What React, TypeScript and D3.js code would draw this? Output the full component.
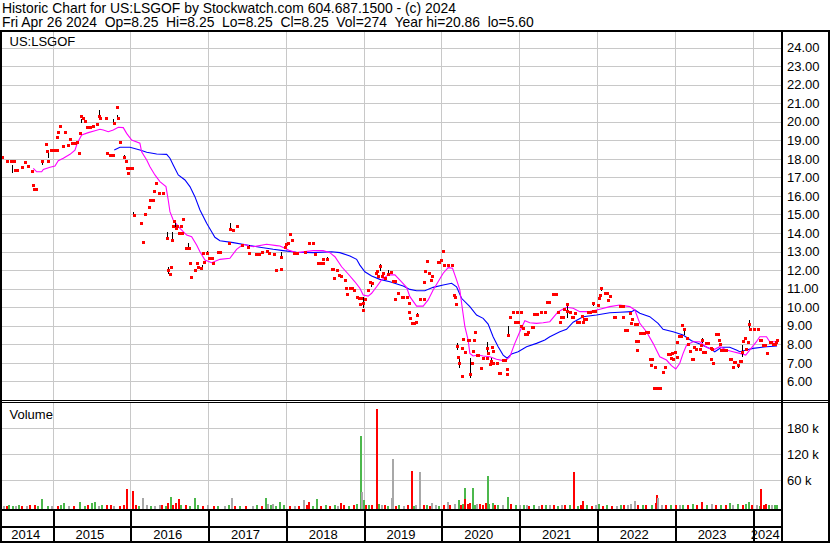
import React from 'react';
import * as d3 from 'd3';

const W = 830;
const H = 543;

const title1 = 'Historic Chart for US:LSGOF by Stockwatch.com 604.687.1500 - (c) 2024';
const title2 = 'Fri Apr 26 2024  Op=8.25  Hi=8.25  Lo=8.25  Cl=8.25  Vol=274  Year hi=20.86  lo=5.60';
const symbol = 'US:LSGOF';
const volumeLabel = 'Volume';

const yearLabels = [2014, 2015, 2016, 2017, 2018, 2019, 2020, 2021, 2022, 2023, 2024];
const yearLines = [2015, 2016, 2017, 2018, 2019, 2020, 2021, 2022, 2023, 2024];
const priceTicks = [24, 23, 22, 21, 20, 19, 18, 17, 16, 15, 14, 13, 12, 11, 10, 9, 8, 7, 6];
const volTicks = [60, 120, 180];

// daily closes: [decimal year, close]
const closes: [number, number][] = [
  [2014.347, 18.11], [2014.415, 17.9], [2014.466, 17.9], [2014.505, 17.9], [2014.518, 17.4], [2014.544, 17.4],
  [2014.608, 17.55], [2014.646, 17.85], [2014.685, 17.6], [2014.732, 17.36], [2014.745, 16.6], [2014.768, 16.35],
  [2014.788, 16.35], [2014.871, 17.9], [2014.916, 18.8], [2014.925, 18.44], [2014.946, 17.9], [2014.977, 18.47],
  [2015.015, 18.47], [2015.054, 18.47], [2015.064, 19.19], [2015.074, 19.46], [2015.096, 19.78], [2015.139, 18.69],
  [2015.164, 19.46], [2015.203, 18.74], [2015.225, 19.05], [2015.25, 18.85], [2015.289, 18.85], [2015.311, 18.92],
  [2015.34, 18.3], [2015.353, 19.4], [2015.366, 20.3], [2015.396, 20.18], [2015.418, 20.04], [2015.443, 19.73],
  [2015.482, 19.73], [2015.524, 19.78], [2015.568, 19.87], [2015.604, 20.3], [2015.61, 20.2], [2015.687, 20.2],
  [2015.7, 18.3], [2015.739, 18.22], [2015.774, 18.22], [2015.794, 19.91], [2015.825, 20.81], [2015.846, 20.2],
  [2015.867, 18.92], [2015.925, 18.1], [2015.941, 17.9], [2015.957, 17.52], [2015.966, 17.25], [2015.987, 17.52],
  [2016.018, 17.52], [2016.047, 14.97], [2016.137, 14.56], [2016.159, 13.52], [2016.189, 15.02], [2016.24, 15.42],
  [2016.253, 15.78], [2016.288, 15.78], [2016.308, 16.28], [2016.33, 16.71], [2016.373, 16.17], [2016.424, 16.17],
  [2016.475, 13.75], [2016.484, 12.0], [2016.506, 11.77], [2016.519, 12.18], [2016.532, 13.6], [2016.553, 14.4],
  [2016.565, 14.66], [2016.583, 14.25], [2016.596, 14.38], [2016.626, 13.98], [2016.651, 14.38], [2016.66, 13.98],
  [2016.673, 14.77], [2016.716, 13.2], [2016.758, 13.18], [2016.767, 12.37], [2016.776, 11.64], [2016.831, 12.0],
  [2016.853, 12.37], [2016.874, 12.18], [2016.908, 12.1], [2016.938, 12.9], [2016.947, 12.45], [2016.982, 12.94],
  [2017.015, 12.67], [2017.046, 12.67], [2017.059, 12.37], [2017.127, 12.97], [2017.153, 12.97], [2017.268, 13.48],
  [2017.288, 14.2], [2017.324, 14.16], [2017.367, 14.38], [2017.439, 13.35], [2017.516, 13.26], [2017.529, 12.9],
  [2017.615, 12.87], [2017.654, 12.87], [2017.689, 12.99], [2017.753, 13.03], [2017.779, 12.9], [2017.847, 12.87],
  [2017.872, 12.0], [2017.933, 12.04], [2017.937, 12.7], [2017.988, 13.26], [2018.001, 13.39], [2018.031, 13.44],
  [2018.052, 13.95], [2018.074, 13.62], [2018.108, 12.9], [2018.138, 12.94], [2018.245, 12.99], [2018.3, 13.48],
  [2018.352, 13.48], [2018.374, 12.85], [2018.408, 12.4], [2018.444, 12.4], [2018.473, 12.6], [2018.481, 12.4],
  [2018.524, 12.58], [2018.588, 12.07], [2018.609, 12.07], [2018.622, 11.59], [2018.653, 12.0], [2018.686, 11.74],
  [2018.714, 11.7], [2018.759, 11.47], [2018.772, 11.02], [2018.789, 10.71], [2018.824, 11.02], [2018.846, 11.02],
  [2018.879, 10.93], [2018.917, 10.57], [2018.943, 10.47], [2018.952, 10.17], [2018.961, 10.47], [2018.99, 10.2],
  [2018.995, 9.85], [2019.016, 10.46], [2019.051, 10.93], [2019.081, 11.37], [2019.103, 11.29], [2019.158, 11.86],
  [2019.174, 11.95], [2019.187, 11.68], [2019.209, 12.2], [2019.231, 11.68], [2019.252, 11.83], [2019.273, 11.6],
  [2019.308, 11.8], [2019.347, 11.9], [2019.372, 11.41], [2019.402, 11.41], [2019.408, 10.42], [2019.437, 10.78],
  [2019.488, 10.53], [2019.509, 10.53], [2019.552, 10.53], [2019.578, 10.21], [2019.582, 9.76], [2019.601, 9.42],
  [2019.624, 9.15], [2019.646, 9.15], [2019.668, 9.22], [2019.681, 9.58], [2019.723, 10.44], [2019.775, 10.44],
  [2019.779, 11.37], [2019.787, 11.97], [2019.817, 12.49], [2019.843, 11.86], [2019.861, 11.47], [2019.878, 11.7],
  [2019.951, 12.44], [2019.971, 12.44], [2019.989, 12.54], [2020.023, 13.05], [2020.036, 12.27], [2020.083, 12.27],
  [2020.131, 12.27], [2020.164, 10.66], [2020.173, 10.57], [2020.186, 10.17], [2020.203, 7.9], [2020.216, 7.33],
  [2020.228, 7.0], [2020.259, 6.29], [2020.267, 7.8], [2020.28, 8.3], [2020.302, 7.6], [2020.336, 8.23],
  [2020.357, 8.23], [2020.366, 6.4], [2020.392, 6.98], [2020.401, 7.64], [2020.417, 8.23], [2020.43, 8.68],
  [2020.452, 7.42], [2020.473, 7.42], [2020.507, 6.71], [2020.537, 7.28], [2020.581, 7.28], [2020.588, 7.8],
  [2020.601, 7.51], [2020.623, 6.94], [2020.636, 7.1], [2020.649, 7.87], [2020.658, 6.98], [2020.665, 7.65],
  [2020.709, 6.98], [2020.742, 6.43], [2020.752, 6.43], [2020.794, 7.13], [2020.816, 7.13], [2020.838, 6.38],
  [2020.845, 6.65], [2020.861, 8.5], [2020.88, 9.49], [2020.923, 9.73], [2020.944, 9.22], [2020.97, 9.73],
  [2020.987, 9.22], [2021.018, 9.73], [2021.03, 8.99], [2021.043, 8.86], [2021.073, 8.56], [2021.095, 8.56],
  [2021.115, 8.68], [2021.159, 8.95], [2021.18, 8.95], [2021.189, 9.62], [2021.223, 9.62], [2021.287, 9.76],
  [2021.33, 9.76], [2021.352, 10.3], [2021.385, 10.3], [2021.436, 10.69], [2021.471, 10.69], [2021.501, 9.76],
  [2021.523, 9.22], [2021.544, 9.49], [2021.565, 9.49], [2021.574, 9.89], [2021.609, 9.8], [2021.617, 10.16],
  [2021.651, 9.76], [2021.673, 9.49], [2021.694, 9.49], [2021.716, 9.67], [2021.745, 9.18], [2021.771, 9.18],
  [2021.802, 9.54], [2021.822, 9.18], [2021.835, 9.34], [2021.857, 9.34], [2021.886, 9.76], [2021.917, 9.76],
  [2021.943, 10.21], [2021.951, 9.8], [2021.973, 9.8], [2022.015, 10.12], [2022.028, 10.48], [2022.037, 10.66],
  [2022.046, 11.02], [2022.101, 10.75], [2022.123, 10.75], [2022.143, 10.39], [2022.165, 10.6], [2022.217, 9.49],
  [2022.238, 9.49], [2022.294, 10.06], [2022.329, 10.06], [2022.336, 9.49], [2022.358, 8.77], [2022.38, 8.77],
  [2022.422, 9.67], [2022.444, 9.16], [2022.457, 9.34], [2022.487, 9.09], [2022.508, 8.2], [2022.516, 7.7],
  [2022.521, 9.09], [2022.529, 8.2], [2022.551, 8.59], [2022.579, 8.59], [2022.606, 8.59], [2022.628, 8.68],
  [2022.657, 8.68], [2022.679, 7.19], [2022.692, 6.88], [2022.714, 7.19], [2022.735, 5.66], [2022.743, 6.76],
  [2022.776, 5.66], [2022.817, 5.66], [2022.843, 6.52], [2022.872, 6.79], [2022.915, 7.48], [2022.936, 7.48],
  [2022.949, 7.26], [2022.971, 7.51], [2022.979, 7.19], [2023.001, 7.6], [2023.023, 7.3], [2023.03, 8.14],
  [2023.056, 8.45], [2023.087, 8.45], [2023.1, 9.04], [2023.117, 8.8], [2023.152, 8.32], [2023.172, 8.02],
  [2023.194, 7.64], [2023.216, 7.22], [2023.236, 7.22], [2023.245, 7.84], [2023.28, 7.73], [2023.322, 7.73],
  [2023.344, 7.96], [2023.357, 8.23], [2023.365, 7.6], [2023.387, 7.6], [2023.408, 8.09], [2023.429, 8.09],
  [2023.46, 7.78], [2023.472, 7.2], [2023.485, 7.73], [2023.493, 6.98], [2023.537, 8.53], [2023.557, 8.53],
  [2023.566, 8.23], [2023.579, 8.04], [2023.601, 7.67], [2023.633, 7.67], [2023.665, 7.67], [2023.707, 7.19],
  [2023.729, 7.19], [2023.75, 6.79], [2023.759, 7.02], [2023.772, 7.02], [2023.814, 6.9], [2023.836, 7.11],
  [2023.858, 7.11], [2023.871, 7.6], [2023.879, 8.18], [2023.901, 8.32], [2023.913, 7.73], [2023.943, 8.14],
  [2023.956, 9.1], [2023.974, 8.8], [2024.023, 8.8], [2024.072, 8.8], [2024.093, 8.23], [2024.115, 8.23],
  [2024.136, 7.96], [2024.157, 7.96], [2024.18, 7.55], [2024.222, 8.14], [2024.243, 8.14], [2024.264, 8.03],
  [2024.286, 8.03], [2024.308, 8.14], [2024.316, 8.25],
];

// daily high-low ranges: [decimal year, high, low]
const ranges: [number, number, number][] = [
  [2014.475, 17.67, 17.22], [2014.861, 17.93, 17.67], [2014.938, 18.38, 18.03], [2015.362, 20.13, 19.91],
  [2015.594, 20.63, 20.32], [2015.697, 18.38, 18.2], [2015.781, 20.13, 19.91], [2015.833, 20.36, 20.18],
  [2015.919, 18.2, 18.03], [2016.038, 15.12, 14.93], [2016.475, 14.07, 13.8], [2016.484, 12.18, 11.77],
  [2016.532, 14.07, 13.62], [2016.575, 14.61, 14.34], [2016.745, 13.44, 13.26], [2016.917, 12.27, 12.0],
  [2016.982, 13.05, 12.87], [2017.281, 14.52, 14.12], [2017.525, 13.35, 13.19], [2017.937, 12.99, 12.64],
  [2018.524, 12.69, 12.51], [2018.99, 10.57, 9.94], [2019.089, 11.29, 11.07], [2019.209, 12.31, 11.97],
  [2019.308, 11.99, 11.68], [2019.681, 9.7, 9.46], [2020.203, 8.05, 7.69], [2020.228, 7.19, 6.71],
  [2020.366, 7.25, 6.17], [2020.588, 8.14, 7.51], [2020.636, 7.25, 7.06], [2020.858, 8.99, 8.41],
  [2021.03, 9.04, 8.86], [2021.609, 10.21, 9.4], [2021.943, 10.3, 10.06], [2022.046, 11.1, 10.89],
  [2023.117, 8.86, 8.5], [2023.357, 8.32, 8.09], [2023.814, 6.88, 6.71], [2023.871, 7.96, 7.33],
  [2023.956, 9.31, 8.86],
];

// short moving average (magenta)
const maShort: [number, number][] = [
  [2014.753, 17.49], [2014.797, 17.3], [2014.861, 17.3], [2014.882, 17.43], [2014.968, 17.54], [2015.032, 17.61],
  [2015.074, 17.9], [2015.139, 18.03], [2015.225, 18.24], [2015.289, 18.47], [2015.318, 18.84], [2015.375, 19.28],
  [2015.46, 19.41], [2015.546, 19.51], [2015.61, 19.59], [2015.653, 19.55], [2015.717, 19.46], [2015.781, 19.55],
  [2015.846, 19.7], [2015.91, 19.68], [2015.953, 19.37], [2016.018, 19.01], [2016.124, 18.84], [2016.146, 18.38],
  [2016.211, 17.94], [2016.253, 17.57], [2016.317, 17.13], [2016.381, 16.77], [2016.459, 16.5], [2016.488, 15.78],
  [2016.51, 15.15], [2016.552, 14.7], [2016.639, 14.25], [2016.725, 13.89], [2016.789, 13.8], [2016.853, 13.35],
  [2016.896, 12.99], [2016.96, 12.54], [2017.046, 12.4], [2017.153, 12.58], [2017.281, 12.64], [2017.367, 13.12],
  [2017.452, 13.39], [2017.581, 13.26], [2017.753, 13.39], [2017.881, 13.32], [2017.924, 13.3], [2017.988, 13.18],
  [2018.052, 13.05], [2018.138, 12.94], [2018.352, 13.05], [2018.48, 13.05], [2018.566, 12.94], [2018.631, 12.72],
  [2018.717, 12.18], [2018.802, 11.79], [2018.888, 11.37], [2018.952, 11.02], [2018.995, 10.66], [2019.059, 10.6],
  [2019.103, 10.75], [2019.167, 11.1], [2019.231, 11.47], [2019.316, 11.74], [2019.402, 11.74], [2019.488, 11.37],
  [2019.552, 11.07], [2019.595, 10.57], [2019.681, 10.06], [2019.766, 10.06], [2019.83, 10.39], [2019.894, 10.93],
  [2019.958, 11.37], [2020.023, 11.83], [2020.087, 12.13], [2020.143, 12.1], [2020.195, 11.47], [2020.237, 10.93],
  [2020.272, 9.85], [2020.302, 8.95], [2020.344, 8.23], [2020.366, 7.51], [2020.408, 7.37], [2020.473, 7.42],
  [2020.537, 7.37], [2020.623, 7.33], [2020.709, 7.19], [2020.794, 7.12], [2020.845, 7.19], [2020.88, 7.33],
  [2020.944, 8.05], [2021.008, 8.68], [2021.073, 9.27], [2021.137, 9.16], [2021.223, 9.13], [2021.308, 9.16],
  [2021.394, 9.22], [2021.501, 9.76], [2021.609, 10.0], [2021.694, 9.94], [2021.78, 9.76], [2021.908, 9.76],
  [2022.037, 9.89], [2022.165, 10.03], [2022.294, 10.12], [2022.422, 10.03], [2022.487, 9.85], [2022.551, 9.13],
  [2022.637, 8.68], [2022.722, 8.05], [2022.808, 7.33], [2022.894, 7.15], [2022.958, 6.85], [2023.014, 6.67],
  [2023.065, 6.98], [2023.108, 7.51], [2023.152, 7.96], [2023.236, 8.14], [2023.322, 8.14], [2023.408, 7.84],
  [2023.493, 7.69], [2023.579, 7.87], [2023.665, 7.69], [2023.75, 7.6], [2023.836, 7.51], [2023.913, 7.42],
  [2023.964, 7.69], [2024.051, 8.14], [2024.093, 8.41], [2024.18, 8.41], [2024.222, 8.14], [2024.308, 8.14],
];

// long moving average (blue)
const maLong: [number, number][] = [
  [2015.794, 18.47], [2015.867, 18.62], [2015.996, 18.62], [2016.124, 18.47], [2016.211, 18.35], [2016.339, 18.26],
  [2016.468, 18.24], [2016.51, 18.03], [2016.552, 17.67], [2016.617, 17.13], [2016.703, 16.86], [2016.767, 16.5],
  [2016.831, 15.96], [2016.896, 15.24], [2016.982, 14.52], [2017.046, 14.07], [2017.088, 13.77], [2017.153, 13.58],
  [2017.324, 13.48], [2017.496, 13.35], [2017.667, 13.23], [2017.838, 13.12], [2017.966, 13.05], [2018.138, 12.96],
  [2018.352, 12.94], [2018.588, 12.99], [2018.695, 12.94], [2018.824, 12.76], [2018.91, 12.58], [2018.952, 12.27],
  [2019.016, 11.91], [2019.103, 11.68], [2019.209, 11.5], [2019.338, 11.37], [2019.509, 11.14], [2019.595, 10.96],
  [2019.681, 10.89], [2019.787, 10.89], [2019.894, 11.07], [2020.023, 11.2], [2020.131, 11.29], [2020.195, 11.1],
  [2020.259, 10.48], [2020.366, 10.03], [2020.452, 9.58], [2020.537, 9.4], [2020.601, 9.09], [2020.665, 8.41],
  [2020.73, 7.87], [2020.794, 7.42], [2020.845, 7.25], [2020.902, 7.48], [2020.987, 7.6], [2021.095, 7.87],
  [2021.223, 8.05], [2021.33, 8.23], [2021.394, 8.41], [2021.523, 8.68], [2021.609, 8.81], [2021.694, 9.19],
  [2021.822, 9.49], [2021.994, 9.58], [2022.165, 9.7], [2022.294, 9.73], [2022.444, 9.76], [2022.487, 9.85],
  [2022.551, 9.67], [2022.679, 9.49], [2022.786, 9.13], [2022.85, 8.81], [2022.979, 8.68], [2023.108, 8.5],
  [2023.216, 8.19], [2023.322, 8.02], [2023.451, 7.78], [2023.515, 7.6], [2023.601, 7.84], [2023.707, 7.84],
  [2023.793, 7.69], [2023.836, 7.6], [2023.921, 7.69], [2024.007, 7.78], [2024.18, 7.87], [2024.316, 7.91],
];

// daily volume in thousands: [decimal year, volume, u=up d=down n=unchanged]
const volumes: [number, number, string][] = [
  [2014.36, 1.5, 'n'], [2014.4, 2, 'd'], [2014.43, 3, 'u'], [2014.474, 2, 'u'], [2014.52, 2, 'n'], [2014.56, 2.5, 'u'],
  [2014.6, 1.5, 'd'], [2014.66, 2, 'n'], [2014.7, 3, 'd'], [2014.76, 2.5, 'd'], [2014.8, 1.5, 'u'], [2014.856, 17, 'u'],
  [2014.93, 2, 'u'], [2014.98, 2, 'n'], [2015.06, 1.5, 'd'], [2015.1, 3, 'u'], [2015.141, 7, 'u'], [2015.2, 2, 'n'],
  [2015.26, 1.5, 'd'], [2015.346, 10, 'u'], [2015.4, 2, 'u'], [2015.44, 3, 'd'], [2015.501, 7, 'u'], [2015.533, 10, 'u'],
  [2015.58, 2, 'n'], [2015.62, 2.5, 'u'], [2015.685, 4, 'd'], [2015.74, 3, 'd'], [2015.78, 2, 'n'], [2015.85, 2, 'd'],
  [2015.9, 4, 'd'], [2015.945, 40, 'd'], [2016.025, 36, 'd'], [2016.06, 3, 'd'], [2016.1, 2, 'u'], [2016.148, 19, 'n'],
  [2016.2, 2.5, 'n'], [2016.26, 1.5, 'u'], [2016.3, 2, 'n'], [2016.365, 3, 'n'], [2016.4, 3, 'd'], [2016.44, 2, 'u'],
  [2016.468, 8, 'd'], [2016.515, 22, 'u'], [2016.54, 3, 'd'], [2016.569, 8, 'd'], [2016.61, 16, 'd'], [2016.64, 2.5, 'u'],
  [2016.7, 3, 'd'], [2016.76, 2, 'u'], [2016.821, 19, 'u'], [2016.86, 4, 'u'], [2016.92, 2, 'd'], [2016.98, 3, 'n'],
  [2017.06, 2, 'd'], [2017.12, 1.5, 'u'], [2017.2, 2, 'n'], [2017.26, 3, 'u'], [2017.297, 19, 'n'], [2017.34, 2, 'd'],
  [2017.4, 2, 'u'], [2017.48, 1.5, 'd'], [2017.56, 2, 'n'], [2017.62, 2.5, 'u'], [2017.68, 2, 'd'], [2017.726, 19, 'u'],
  [2017.76, 6, 'n'], [2017.8, 3, 'u'], [2017.827, 5, 'n'], [2017.86, 2, 'u'], [2017.916, 10, 'u'], [2017.96, 3, 'u'],
  [2018.04, 2, 'd'], [2018.1, 2, 'n'], [2018.16, 1.5, 'd'], [2018.222, 14, 'n'], [2018.26, 3, 'd'], [2018.29, 10, 'd'],
  [2018.34, 2, 'u'], [2018.392, 17, 'u'], [2018.44, 2, 'd'], [2018.5, 3, 'u'], [2018.56, 2, 'd'], [2018.62, 4, 'u'],
  [2018.66, 2, 'n'], [2018.698, 7, 'd'], [2018.74, 3, 'd'], [2018.8, 2, 'u'], [2018.86, 3, 'd'], [2018.9, 5, 'u'],
  [2018.95, 163, 'u'], [2018.97, 33, 'n'], [2018.991, 14, 'u'], [2019.02, 3, 'd'], [2019.06, 4, 'u'], [2019.1, 3, 'd'],
  [2019.16, 225, 'd'], [2019.187, 5, 'u'], [2019.22, 4, 'n'], [2019.26, 3, 'd'], [2019.3, 2, 'u'], [2019.357, 19, 'n'],
  [2019.371, 110, 'n'], [2019.4, 2, 'd'], [2019.44, 3, 'u'], [2019.5, 2, 'n'], [2019.56, 3, 'd'], [2019.609, 82, 'd'],
  [2019.64, 2, 'u'], [2019.66, 3, 'n'], [2019.718, 80, 'n'], [2019.76, 3, 'd'], [2019.8, 4, 'u'], [2019.84, 2, 'd'],
  [2019.867, 8, 'n'], [2019.92, 3, 'n'], [2019.96, 2, 'u'], [2020.02, 4, 'd'], [2020.072, 10, 'n'], [2020.1, 3, 'd'],
  [2020.16, 5, 'n'], [2020.214, 14, 'u'], [2020.241, 4, 'd'], [2020.26, 6, 'u'], [2020.289, 42, 'u'], [2020.297, 17, 'd'],
  [2020.33, 5, 'd'], [2020.36, 8, 'd'], [2020.398, 42, 'u'], [2020.42, 4, 'u'], [2020.45, 5, 'n'], [2020.479, 5, 'd'],
  [2020.52, 4, 'd'], [2020.561, 8, 'd'], [2020.582, 70, 'u'], [2020.6, 5, 'u'], [2020.649, 8, 'u'], [2020.68, 3, 'd'],
  [2020.72, 4, 'u'], [2020.78, 3, 'n'], [2020.84, 22, 'u'], [2020.88, 5, 'd'], [2020.94, 3, 'u'], [2021.0, 4, 'n'],
  [2021.05, 3, 'u'], [2021.086, 4, 'n'], [2021.12, 2, 'd'], [2021.18, 3, 'u'], [2021.24, 2, 'n'], [2021.28, 4, 'd'],
  [2021.33, 3, 'u'], [2021.38, 3, 'n'], [2021.44, 3, 'd'], [2021.48, 2, 'u'], [2021.536, 3, 'n'], [2021.58, 4, 'd'],
  [2021.64, 3, 'u'], [2021.69, 79, 'd'], [2021.74, 2, 'u'], [2021.78, 3, 'd'], [2021.805, 12, 'd'], [2021.86, 4, 'u'],
  [2021.92, 2, 'd'], [2021.97, 3, 'n'], [2022.01, 6, 'u'], [2022.06, 2, 'd'], [2022.12, 3, 'u'], [2022.18, 2, 'd'],
  [2022.24, 2, 'n'], [2022.3, 4, 'u'], [2022.34, 3, 'd'], [2022.384, 4, 'n'], [2022.42, 5, 'n'], [2022.473, 13, 'n'],
  [2022.52, 3, 'd'], [2022.58, 4, 'u'], [2022.62, 3, 'd'], [2022.7, 4, 'u'], [2022.74, 8, 'd'], [2022.757, 26, 'd'],
  [2022.778, 19, 'n'], [2022.82, 3, 'n'], [2022.88, 4, 'd'], [2022.94, 3, 'u'], [2023.0, 3, 'd'], [2023.06, 4, 'n'],
  [2023.1, 3, 'u'], [2023.16, 4, 'd'], [2023.22, 5, 'u'], [2023.28, 4, 'd'], [2023.335, 10, 'd'], [2023.4, 3, 'u'],
  [2023.46, 5, 'n'], [2023.52, 3, 'd'], [2023.58, 4, 'u'], [2023.64, 3, 'd'], [2023.695, 7, 'u'], [2023.74, 4, 'n'],
  [2023.8, 6, 'u'], [2023.86, 4, 'd'], [2023.9, 5, 'u'], [2023.948, 10, 'u'], [2023.98, 4, 'd'], [2024.04, 3, 'n'],
  [2024.08, 2, 'u'], [2024.097, 39, 'd'], [2024.132, 4, 'd'], [2024.16, 6, 'd'], [2024.2, 3, 'u'], [2024.24, 4, 'n'],
  [2024.273, 3, 'u'], [2024.3, 3, 'u'],
];

const FONT = '"Liberation Sans", Arial, sans-serif';
const GRID = '#c8c8c8';
const volColor: Record<string, string> = { u: '#4cb84c', d: '#ff0000', n: '#a8a8a8' };

export default function App() {
  const plotL = 2;
  const plotR = 781;
  const x = d3.scaleLinear().domain([2015, 2024]).range([52.5, 752.5]);
  const yP = d3.scaleLinear().domain([6, 24]).range([381.4, 47.5]);
  const yV = d3.scaleLinear().domain([0, 180]).range([506.4, 428.3]);
  const volBase = 508.5;

  const line = d3
    .line<[number, number]>()
    .x((d) => x(d[0]))
    .y((d) => yP(d[1]));

  return (
    <svg
      width={W}
      height={H}
      style={{ position: 'absolute', left: 0, top: 0, background: '#fff' }}
      fontFamily={FONT}
    >
      <defs>
        <clipPath id="pclip">
          <rect x={plotL} y={33} width={plotR - plotL} height={367} />
        </clipPath>
      </defs>
      <rect x={0} y={0} width={W} height={H} fill="#fff" />

      {/* header */}
      <text x={2} y={12.5} fontSize={13.9} fill="#000" style={{ whiteSpace: 'pre' }}>
        {title1}
      </text>
      <text x={2} y={27} fontSize={13.9} fill="#000" style={{ whiteSpace: 'pre' }}>
        {title2}
      </text>

      {/* price grid */}
      <g shapeRendering="crispEdges">
        {priceTicks.map((t) => (
          <line key={'hp' + t} x1={plotL} x2={plotR} y1={Math.round(yP(t)) + 0.5} y2={Math.round(yP(t)) + 0.5} stroke={GRID} />
        ))}
        {yearLines.map((yr) => (
          <line key={'vp' + yr} x1={Math.round(x(yr)) + 0.5} x2={Math.round(x(yr)) + 0.5} y1={32} y2={400} stroke={GRID} />
        ))}
        {volTicks.map((t) => (
          <line key={'hv' + t} x1={plotL} x2={plotR} y1={Math.round(yV(t)) + 0.5} y2={Math.round(yV(t)) + 0.5} stroke={GRID} />
        ))}
        {yearLines.map((yr) => (
          <line key={'vv' + yr} x1={Math.round(x(yr)) + 0.5} x2={Math.round(x(yr)) + 0.5} y1={403} y2={509} stroke={GRID} />
        ))}
      </g>

      <text x={9.5} y={46} fontSize={13} fill="#000">
        {symbol}
      </text>
      <text x={9.5} y={418.5} fontSize={13} fill="#000">
        {volumeLabel}
      </text>

      {/* moving averages */}
      <g clipPath="url(#pclip)" fill="none" strokeWidth={1.1}>
        <path d={line(maLong) || ''} stroke="#0000ff" />
        <path d={line(maShort) || ''} stroke="#ff00ff" />
      </g>

      {/* daily marks */}
      <g clipPath="url(#pclip)" shapeRendering="crispEdges">
        {ranges.map((d, i) => (
          <rect key={'r' + i} x={Math.round(x(d[0]))} y={yP(d[1])} width={1} height={Math.max(2, yP(d[2]) - yP(d[1]))} fill="#000" />
        ))}
        {closes.map((d, i) => (
          <rect key={'c' + i} x={Math.round(x(d[0])) - 1} y={Math.round(yP(d[1])) - 1} width={3} height={2.5} fill="#ff0000" />
        ))}
      </g>

      {/* volume bars */}
      <g shapeRendering="crispEdges">
        {volumes.map((d, i) => {
          const top = Math.min(yV(d[1]), volBase - 1.5);
          return (
            <rect key={'v' + i} x={Math.round(x(d[0]))} y={top} width={2} height={volBase - top} fill={volColor[d[2]]} />
          );
        })}
      </g>

      {/* frame */}
      <g shapeRendering="crispEdges" fill="#000">
        <rect x={0} y={30} width={W} height={2} />
        <rect x={0} y={30} width={2} height={H - 30} />
        <rect x={781} y={30} width={2} height={H - 30} />
        <rect x={828} y={30} width={2} height={H - 30} />
        <rect x={0} y={400} width={W} height={1} />
        <rect x={0} y={402} width={W} height={1} />
        <rect x={0} y={509} width={783} height={2} />
        <rect x={0} y={526} width={783} height={2} />
        <rect x={0} y={541} width={W} height={2} />
        {yearLines.map((yr) => (
          <rect key={'yd' + yr} x={Math.round(x(yr))} y={510} width={1.5} height={31} />
        ))}
      </g>

      {/* price labels */}
      {priceTicks.map((t) => (
        <text key={'pl' + t} x={787} y={yP(t) + 4.7} fontSize={13} fill="#000">
          {t.toFixed(2)}
        </text>
      ))}
      {volTicks.map((t) => (
        <text key={'vl' + t} x={787} y={yV(t) + 4.7} fontSize={13} fill="#000">
          {t + ' k'}
        </text>
      ))}

      {/* year labels */}
      {yearLabels.map((yr) => {
        const l = Math.max(x(yr), plotL);
        const r = Math.min(x(yr + 1), plotR);
        return (
          <text key={'yl' + yr} x={(l + r) / 2 - 1.5} y={538.5} fontSize={13} textAnchor="middle" fill="#000">
            {yr}
          </text>
        );
      })}
    </svg>
  );
}
